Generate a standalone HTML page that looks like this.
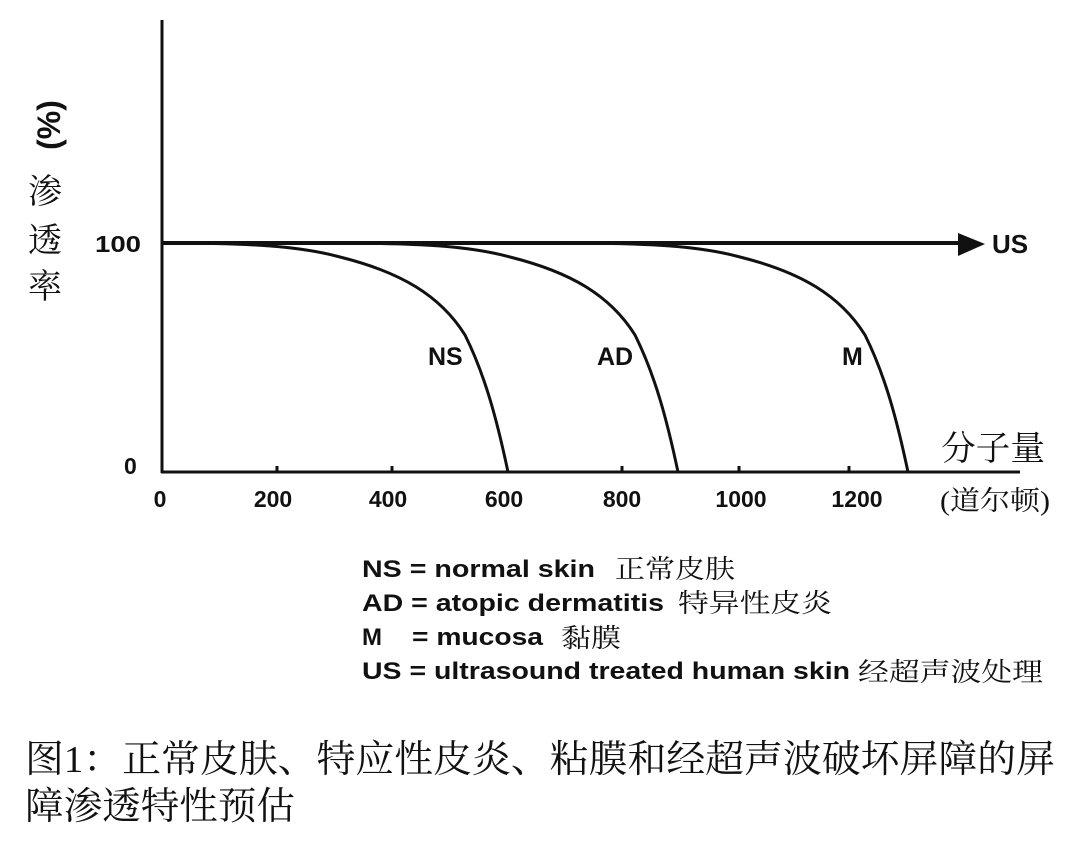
<!DOCTYPE html>
<html><head><meta charset="utf-8"><style>
html,body{margin:0;padding:0;background:#fff;}
svg{display:block;}
.b{font-family:"Liberation Sans",Arial,sans-serif;font-weight:bold;fill:#111;}
.c{font-family:"Liberation Serif","Noto Serif CJK SC",serif;fill:#111;}
</style></head><body>
<svg width="1080" height="849" viewBox="0 0 1080 849" xmlns="http://www.w3.org/2000/svg">
<g stroke="#111" fill="none" stroke-width="3">
<line x1="162" y1="20" x2="162" y2="473"/>
<line x1="161" y1="472" x2="1020" y2="472"/>
<line x1="277" y1="466" x2="277" y2="472"/>
<line x1="392" y1="466" x2="392" y2="472"/>
<line x1="622" y1="466" x2="622" y2="472"/>
<line x1="739" y1="466" x2="739" y2="472"/>
<line x1="849" y1="466" x2="849" y2="472"/>
<line x1="162" y1="243" x2="962" y2="243" stroke-width="4"/>
<path d="M162,243 C250,243 300,246 340,257 C400,272 440,295 465,335 C485,375 497,420 508,472"/>
<path d="M332,243 C420,243 470,246 510,257 C570,272 610,295 635,335 C655,375 667,420 678,472"/>
<path d="M562,243 C650,243 700,246 740,257 C800,272 840,295 865,335 C885,375 897,420 908,472"/>
</g>
<polygon points="958,233 985,244 958,256" fill="#111"/>
<text class="b" x="992" y="253" font-size="26">US</text>
<text class="b" x="428" y="365" font-size="25">NS</text>
<text class="b" x="597" y="365" font-size="25">AD</text>
<text class="b" x="842" y="365" font-size="25">M</text>
<text class="b" x="95" y="252" font-size="23" textLength="46" lengthAdjust="spacingAndGlyphs">100</text>
<text class="b" x="124" y="474" font-size="23">0</text>
<g class="b" font-size="23" text-anchor="middle">
<text x="160" y="507">0</text>
<text x="273" y="507">200</text>
<text x="388" y="507">400</text>
<text x="504" y="507">600</text>
<text x="622" y="507">800</text>
<text x="741" y="507">1000</text>
<text x="857" y="507">1200</text>
</g>
<text class="b" font-size="32" transform="translate(60,125) rotate(-90)" text-anchor="middle">(%)</text>
<g class="c" font-size="34" text-anchor="middle">
<text x="45" y="203">渗</text>
<text x="45" y="252">透</text>
<text x="45" y="298">率</text>
</g>
<text class="c" x="941" y="460" font-size="34" textLength="104" lengthAdjust="spacingAndGlyphs">分子量</text>
<text class="c" x="940" y="510" font-size="27" textLength="110" lengthAdjust="spacingAndGlyphs">(道尔顿)</text>
<g class="b" font-size="24">
<text x="362" y="577" textLength="233" lengthAdjust="spacingAndGlyphs">NS = normal skin</text>
<text x="362" y="611" textLength="302" lengthAdjust="spacingAndGlyphs">AD = atopic dermatitis</text>
<text x="362" y="645">M</text>
<text x="412" y="645" textLength="131" lengthAdjust="spacingAndGlyphs">= mucosa</text>
<text x="362" y="679" textLength="488" lengthAdjust="spacingAndGlyphs">US = ultrasound treated human skin</text>
</g>
<g class="c" font-size="26">
<text x="615" y="578" textLength="120" lengthAdjust="spacingAndGlyphs">正常皮肤</text>
<text x="678" y="612" textLength="154" lengthAdjust="spacingAndGlyphs">特异性皮炎</text>
<text x="561" y="647" textLength="60" lengthAdjust="spacingAndGlyphs">黏膜</text>
<text x="858" y="681" textLength="185" lengthAdjust="spacingAndGlyphs">经超声波处理</text>
</g>
<g class="c" font-size="38">
<text x="25" y="772" textLength="1030" lengthAdjust="spacingAndGlyphs">图1：正常皮肤、特应性皮炎、粘膜和经超声波破坏屏障的屏</text>
<text x="25" y="819" textLength="270" lengthAdjust="spacingAndGlyphs">障渗透特性预估</text>
</g>
</svg>
</body></html>
